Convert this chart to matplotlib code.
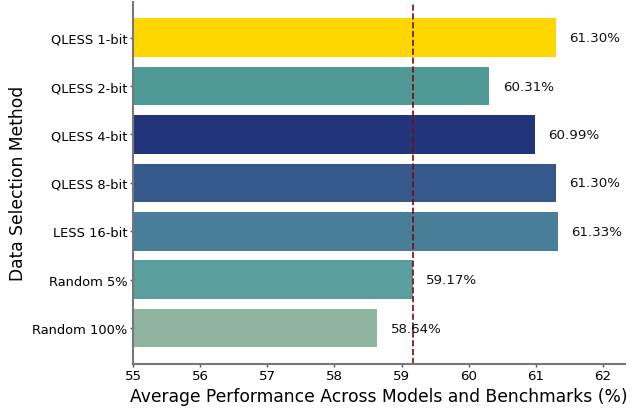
import matplotlib
matplotlib.use('Agg')
import matplotlib.pyplot as plt

methods = ['QLESS 1-bit', 'QLESS 2-bit', 'QLESS 4-bit', 'QLESS 8-bit',
           'LESS 16-bit', 'Random 5%', 'Random 100%']
scores = [61.30, 60.31, 60.99, 61.30, 61.33, 59.17, 58.64]
colors = ['#FFD700', '#4F9A94', '#22357A', '#34598A', '#477E98', '#5A9E9E', '#8FB4A2']
baseline = 59.17

fig = plt.figure(figsize=(6.43, 4.10), dpi=100)
ax = fig.add_axes([0.207, 0.110, 0.765, 0.883])

ypos = list(range(len(methods)))
ax.barh(ypos, scores, height=0.8, color=colors)
ax.invert_yaxis()
ax.set_yticks(ypos)
ax.set_yticklabels(methods, fontsize=9.4)

for y, v in zip(ypos, scores):
    ax.text(v + 0.2, y, f'{v:.2f}%', va='center', ha='left', fontsize=9.6, color='#111111')

ax.axvline(baseline, color='#7A0A0A', linestyle='--', linewidth=1.2)

ax.set_xlim(55, 62.33)
ax.set_xticks([55, 56, 57, 58, 59, 60, 61, 62])
ax.tick_params(axis='x', labelsize=9.6)
ax.tick_params(axis='both', length=2.5, width=1, pad=1.5, color='#555555')
ax.set_xlabel('Average Performance Across Models and Benchmarks (%)', fontsize=12.3, labelpad=3)
ax.set_ylabel('Data Selection Method', fontsize=12.3, labelpad=4)

for s in ['top', 'right']:
    ax.spines[s].set_visible(False)
for s in ['left', 'bottom']:
    ax.spines[s].set_color('#777777')
    ax.spines[s].set_linewidth(1.5)

fig.savefig('out.png', dpi=100)
